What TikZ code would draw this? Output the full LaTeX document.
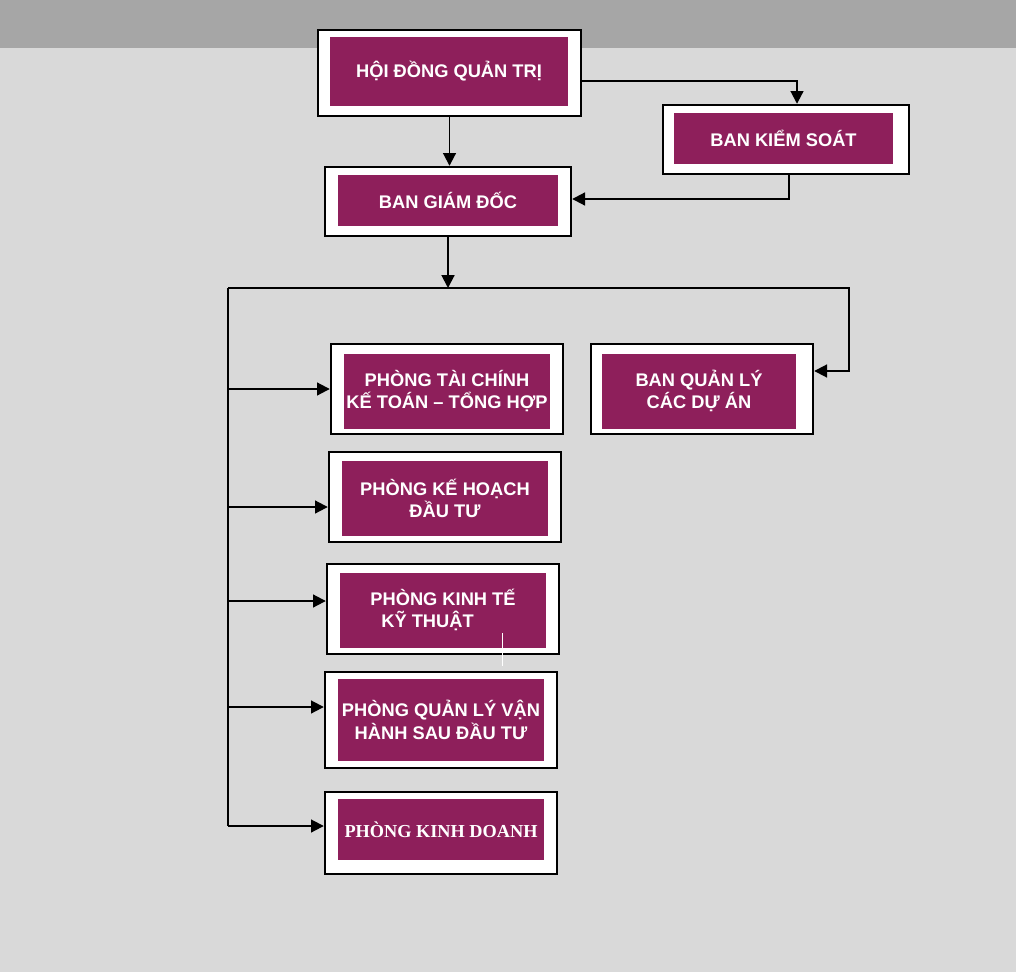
\documentclass[tikz,border=0pt]{standalone}
\usepackage{fontspec}
\setmainfont{Liberation Sans}
\newfontfamily\serifbold{Liberation Serif}
\usetikzlibrary{arrows.meta}

\definecolor{plum}{RGB}{142,31,91}
\definecolor{backgray}{RGB}{217,217,217}
\definecolor{bandgray}{RGB}{166,166,166}

\tikzset{
	boxout/.style 2 args={draw=black, fill=white, line width=1.7pt, inner sep=0pt,
		minimum width=#1*0.025cm, minimum height=#2*0.025cm},
	boxin/.style 2 args={fill=plum, text=white, inner sep=0pt, align=center,
		minimum width=#1*0.025cm, minimum height=#2*0.025cm,
		font=\fontsize{13pt}{16pt}\selectfont\bfseries},
	conn/.style={line width=1.4pt, -{Triangle[length=0.32cm,width=0.32cm]}},
	busline/.style={line width=1.4pt}
}

\begin{document}
\begin{tikzpicture}[x=0.025cm,y=-0.025cm]
\useasboundingbox (0,0) rectangle (1016,972);

% background
\fill[backgray] (0,0) rectangle (1016,972);
\fill[bandgray] (0,0) rectangle (1016,48);

% top level
\node[boxout={263}{86}] (hdqt) at (449.5,73) {};
\node[boxin={238}{69}] (hdqtin) at (449,71.5) {HỘI ĐỒNG QUẢN TRỊ};
\node[boxout={246}{69}] (bks) at (786,139.5) {};
\node[boxin={219}{51}] (bksin) at (783.5,138.5) {BAN KIỂM SOÁT};
\node[boxout={246}{69}] (bgd) at (448,201.5) {};
\node[boxin={220}{51}] (bgdin) at (448,200.5) {BAN GIÁM ĐỐC};

% departments
\node[boxout={232}{90}] (tckt) at (447,389) {};
\node[boxin={206}{75}] (tcktin) at (447,391) {PHÒNG TÀI CHÍNH\\KẾ TOÁN – TỔNG HỢP};
\node[boxout={222}{90}] (bqlda) at (702,389) {};
\node[boxin={194}{75}] (bqldain) at (699,391) {BAN QUẢN LÝ\\CÁC DỰ ÁN};
\node[boxout={232}{90}] (khdt) at (445,497) {};
\node[boxin={206}{75}] (khdtin) at (445,498.5) {PHÒNG KẾ HOẠCH\\ĐẦU TƯ};
\node[boxout={232}{90}] (ktkt) at (443,609) {};
\node[boxin={206}{75}, align=left] (ktktin) at (443,610) {PHÒNG KINH TẾ\\\hspace*{7.8pt}KỸ THUẬT};
\node[boxout={232}{96}] (qlvh) at (441,720) {};
\node[boxin={206}{82}] (qlvhin) at (441,720) {PHÒNG QUẢN LÝ VẬN\\HÀNH SAU ĐẦU TƯ};
\node[boxout={232}{82}] (kd) at (441,833) {};
\node[boxin={206}{61}, font=\fontsize{13pt}{16pt}\selectfont\serifbold\bfseries] (kdin) at (441,829.5) {PHÒNG KINH DOANH};

% stray white mark
\draw[white, line width=0.7pt] (502,633) -- (502,666);

% board to control and directors
\draw[conn] ([yshift=-0.2cm]hdqt.east) -| ([xshift=0.275cm]bks.north);
\draw[conn] (hdqt.south) -- (hdqt.south |- bgd.north);
\draw[conn] ([xshift=0.075cm]bks.south) |- ([yshift=0.0625cm]bgd.east);

% bus
\coordinate (bus) at (450,288);
\coordinate (busL) at (228,288);
\coordinate (busR) at (849,288);
\coordinate (busB) at (228,826);
\draw[conn] (bgd.south) -- (bgd.south |- bus);
\draw[conn] (busL) -- (busR) |- ([yshift=0.45cm]bqlda.east);
\draw[busline] (busL) -- (busB);

% branches
\foreach \n/\dy in {tckt/0,khdt/-10,ktkt/8,qlvh/13,kd/7}{
	\coordinate (tip) at ([yshift=\dy*0.025cm]\n.west);
	\draw[conn] (busL |- tip) -- (tip);
}

\end{tikzpicture}
\end{document}
